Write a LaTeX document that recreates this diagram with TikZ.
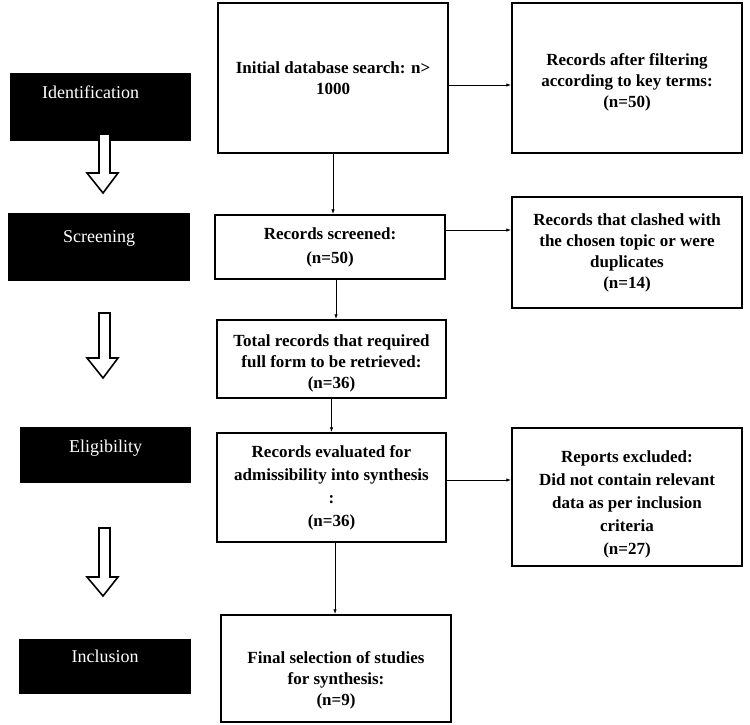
\documentclass[tikz,border=0pt]{standalone}
\usepackage{fontspec}
\setmainfont{Liberation Serif}
\usetikzlibrary{arrows.meta}
\tikzset{
  stage/.style={fill=black, text=white, inner xsep=0pt, inner ysep=0pt, anchor=north west,
    font=\fontsize{18}{20}\selectfont},
  box/.style={draw=black, line width=1.5pt, fill=white, align=center, inner sep=2pt,
    font=\bfseries\fontsize{17}{21}\selectfont},
  widebox/.style={box, font=\bfseries\fontsize{17}{23}\selectfont},
  arr/.style={line width=0.9pt, -{Latex[length=5pt,width=3.5pt]}},
  bigarrow/.style={draw=black, line width=1.6pt, fill=white, line join=miter}
}
\begin{document}
\begin{tikzpicture}[x=1pt,y=-1pt]
\useasboundingbox (0,0) rectangle (750,724);

% stage labels
\node[stage, minimum width=181pt, text height=25pt, text depth=43pt] (ident) at (10,73) {Identification\hspace*{20pt}};
\node[stage, minimum width=182pt, text height=29pt, text depth=39pt] (screen) at (8,213) {Screening};
\node[stage, minimum width=171pt, text height=25pt, text depth=31pt] (elig) at (20,427) {Eligibility};
\node[stage, minimum width=172pt, text height=23pt, text depth=32pt] (incl) at (19,639) {Inclusion};

% hollow arrows
\draw[bigarrow] (99,134) -- (110,134) -- (110,173) -- (118,173) -- (103,193) -- (87,173) -- (99,173) -- cycle;
\draw[bigarrow] (99,313) -- (110,313) -- (110,358) -- (118,358) -- (103,378) -- (87,358) -- (99,358) -- cycle;
\draw[bigarrow] (99,528) -- (110,528) -- (110,577) -- (118,577) -- (103,596) -- (87,577) -- (99,577) -- cycle;

% boxes
\node[box, minimum width=230pt, minimum height=150pt] (init) at (333,78) {Initial database search: n>\\1000};
\node[box, minimum width=230pt, minimum height=150pt] (filt) at (627,78) {\rule{0pt}{20pt}Records after filtering\\according to key terms:\\(n=50)};
\node[box, minimum width=230pt, minimum height=64pt] (scr) at (330,247) {Records screened:\\[3pt](n=50)};
\node[box, minimum width=230pt, minimum height=111pt] (clash) at (627,252.5) {Records that clashed with\\the chosen topic or were\\duplicates\\(n=14)};
\node[box, minimum width=229pt, minimum height=78pt] (total) at (331.5,359) {\rule{0pt}{20pt}Total records that required\\full form to be retrieved:\\(n=36)};
\node[widebox, minimum width=229pt, minimum height=109pt] (eval) at (331.5,487.5) {Records evaluated for\\admissibility into synthesis\\:\\(n=36)};
\node[widebox, minimum width=230pt, minimum height=138pt] (excl) at (627,497) {\rule{0pt}{26pt}Reports excluded:\\Did not contain relevant\\data as per inclusion\\criteria\\(n=27)};
\node[box, minimum width=230pt, minimum height=107pt] (final) at (336,668.5) {\rule{0pt}{36pt}Final selection of studies\\for synthesis:\\(n=9)};

% connectors
\draw[arr] ([yshift=-7pt]init.east) -- ([yshift=-7pt]init.east -| filt.west);
\draw[arr] (init.south) -- (init.south |- scr.north);
\draw[arr] ([yshift=17pt]scr.east) -- ([yshift=17pt]scr.east -| clash.west);
\draw[arr] ([xshift=6pt]scr.south) -- ([xshift=6pt]scr.south |- total.north);
\draw[arr] (total.south) -- (total.south |- eval.north);
\draw[arr] ([yshift=7.5pt]eval.east) -- ([yshift=7.5pt]eval.east -| excl.west);
\draw[arr] ([xshift=3.5pt]eval.south) -- ([xshift=3.5pt]eval.south |- final.north);
\end{tikzpicture}
\end{document}
